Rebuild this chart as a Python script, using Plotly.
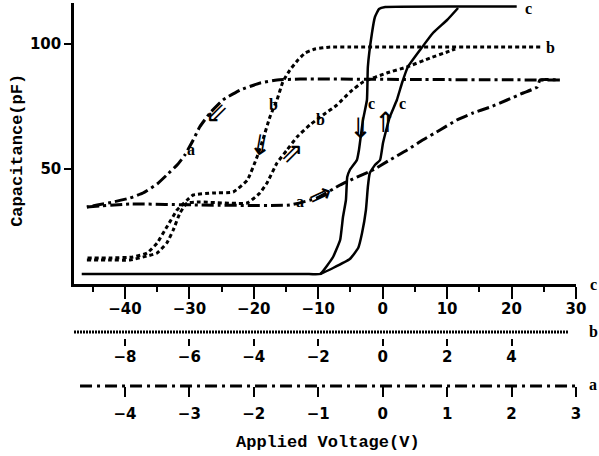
import plotly.graph_objects as go

# ---- data (voltage in each curve's own scale, capacitance in pF) ----
c_down_v = [20.8, 11.7, 0.4, -0.57, -1.2, -1.66, -2.3, -2.44, -3.06, -3.68, -4.0, -5.1, -5.5, -5.7, -6.16, -6.6, -7.7, -9.7, -12.0, -46.7]
c_down_c = [115, 115, 114.8, 114, 110.8, 104.4, 90.8, 77.6, 69.6, 57.6, 53.6, 49.6, 46.8, 37.6, 30.8, 21.6, 14.8, 8, 8, 8]
c_up_v = [-9.7, -7.7, -5.1, -3.8, -3.2, -2.6, -2.3, -2.0, -1.2, -0.4, 0.05, 0.67, 1.1, 2.2, 3.0, 3.9, 5.8, 7.8, 10.0, 11.7]
c_up_c = [8, 10.4, 14, 18.4, 24.4, 33.6, 42.8, 48.4, 51.6, 53.6, 60.4, 66.8, 70.8, 77.6, 84.4, 90.8, 97.6, 104.4, 109.6, 114.4]

b_down_v = [4.89, -1.0, -1.63, -2.1, -2.41, -2.63, -2.88, -3.1, -3.28, -3.5, -3.72, -3.9, -4.2, -4.64, -5.26, -5.88, -6.07, -6.38, -6.7, -7.0, -7.31, -7.75, -8.46, -9.18]
b_down_c = [98.8, 98.8, 98.8, 98, 96.4, 93.6, 89.6, 84.8, 77.6, 70.8, 61.6, 54.8, 45.6, 40.8, 40.4, 39.6, 37.6, 33.6, 26.8, 20.4, 16.4, 14.8, 14.4, 14.4]
b_up_v = [-9.18, -8.5, -7.84, -7.31, -7.0, -6.7, -6.5, -6.29, -6.07, -5.67, -4.21, -3.81, -3.59, -3.28, -2.97, -2.66, -2.26, -1.85, -1.42, -1.01, -0.61, 0.13, 0.75, 1.47, 2.0, 2.25]
b_up_c = [13.6, 13.6, 13.6, 15.2, 16.4, 20.4, 25.6, 32.4, 36.4, 36.8, 36.4, 40.4, 44.4, 52.4, 57.6, 62.8, 67.6, 71.6, 75.6, 80.8, 84.8, 88.4, 90.8, 94.4, 96.8, 98.0]

a_down_v = [2.75, 0.5, -1.28, -1.64, -1.9, -2.21, -2.48, -2.68, -2.84, -2.94, -3.07, -3.19, -3.35, -3.5, -3.72, -3.92, -4.18, -4.43, -4.59]
a_down_c = [85.6, 85.8, 86, 85.6, 84.4, 81.6, 77.6, 72.4, 66.8, 61.6, 55.6, 51.6, 47.6, 44, 40.4, 38.4, 36.8, 35.6, 34.8]
a_up_v = [-4.59, -3.92, -2.83, -1.44, -1.02, -0.66, -0.40, -0.15, 0.11, 0.38, 0.62, 0.89, 1.15, 1.40, 1.67, 1.93, 2.18, 2.40, 2.44, 2.75]
a_up_c = [34.8, 36, 35.6, 35.6, 38.4, 43.6, 46.8, 49.6, 53.6, 57.6, 61.6, 65.6, 69.6, 72.4, 74.8, 77.6, 80.4, 82.8, 85.6, 85.6]

c_ticks = [-40, -30, -20, -10, 0, 10, 20, 30]
b_ticks = [-8, -6, -4, -2, 0, 2, 4]
a_ticks = [-4, -3, -2, -1, 0, 1, 2, 3]
y_ticks = [50, 100]

# label positions (c-scale volts, pF)
curve_labels = [("c", 22.6, 114.4), ("b", 26.0, 98.8), ("a", 30.6, 83.6),
                ("a", -29.7, 58), ("b", -16.9, 76), ("b", -9.6, 70),
                ("c", -1.8, 76.4), ("c", 3.0, 76.4), ("a", -12.8, 37.2)]
arrow_marks = [("⇙", -25.8, 72.8, 0), ("⇓", -18.9, 59.6, 10), ("⇗", -14.1, 56.8, 0),
               ("⇗", -9.7, 40, 20), ("⇓", -3.5, 66.4, 0), ("⇑", 0.5, 68.8, 0)]

fig = go.Figure()
c_line = dict(color="black", width=2.5)
b_line = dict(color="black", width=3, dash="4px,3px")
a_line = dict(color="black", width=3, dash="12px,4px,3px,4px")
for xs, ys in [(c_down_v, c_down_c), (c_up_v, c_up_c)]:
    fig.add_trace(go.Scatter(x=xs, y=ys, mode="lines", line=dict(shape="spline", smoothing=0.35, **c_line),
                             xaxis="x", yaxis="y", showlegend=False, hoverinfo="skip"))
for xs, ys in [(b_down_v, b_down_c), (b_up_v, b_up_c)]:
    fig.add_trace(go.Scatter(x=xs, y=ys, mode="lines", line=dict(shape="spline", smoothing=0.4, **b_line),
                             xaxis="x2", yaxis="y", showlegend=False, hoverinfo="skip"))
for xs, ys in [(a_down_v, a_down_c), (a_up_v, a_up_c)]:
    fig.add_trace(go.Scatter(x=xs, y=ys, mode="lines", line=dict(shape="spline", smoothing=0.4, **a_line),
                             xaxis="x3", yaxis="y", showlegend=False, hoverinfo="skip"))

tickfont = dict(family="DejaVu Sans", size=15, color="black", weight="bold")
c_rng = [-47.9, 30.0]
y_bottom = 0.2922
b_pos = 0.156
a_pos = 0.0353

fig.update_layout(
    width=599, height=456,
    margin=dict(l=74, r=23, t=3, b=56),
    paper_bgcolor="white", plot_bgcolor="white",
    xaxis=dict(range=c_rng, domain=[0, 1], tickvals=c_ticks, ticks="outside", ticklen=12, tickwidth=2,
               tickcolor="black", showline=True, linewidth=3, linecolor="black", showgrid=False,
               zeroline=False, tickfont=tickfont, anchor="y", ticklabelstandoff=-3,
               minor=dict(dtick=5, tick0=0, ticks="outside", ticklen=5, tickwidth=1.5, tickcolor="black")),
    xaxis2=dict(range=[c_rng[0] / 5, c_rng[1] / 5], overlaying="x", anchor="free", position=b_pos,
                side="bottom", tickvals=b_ticks, ticks="outside", ticklen=7, tickwidth=1.5, tickcolor="black",
                showline=False, showgrid=False, zeroline=False, tickfont=tickfont, ticklabelstandoff=-2),
    xaxis3=dict(range=[c_rng[0] / 10, c_rng[1] / 10], overlaying="x", anchor="free", position=a_pos,
                side="bottom", tickvals=a_ticks, ticks="outside", ticklen=10, tickwidth=2, tickcolor="black",
                showline=False, showgrid=False, zeroline=False, tickfont=tickfont, ticklabelstandoff=4),
    yaxis=dict(range=[4, 116.4], domain=[y_bottom, 1], tickvals=y_ticks, ticks="outside", ticklen=7,
               tickwidth=2, tickcolor="black", showline=True, linewidth=2.5, linecolor="black",
               showgrid=False, zeroline=False, tickfont=tickfont),
)

# dotted b axis line and dash-dot a axis line
fig.add_shape(type="line", xref="paper", yref="paper", x0=0, x1=0.984, y0=0.1713, y1=0.1713,
              line=dict(color="black", width=3, dash="2px,1px"))
fig.add_shape(type="line", xref="paper", yref="paper", x0=0.012, x1=1.0, y0=a_pos, y1=a_pos,
              line=dict(color="black", width=3, dash="12px,5px,3px,5px"))

lab_font = dict(family="Liberation Serif", size=16, color="black", weight="bold")
for t, x, y in curve_labels:
    fig.add_annotation(x=x, y=y, xref="x", yref="y", text=t, showarrow=False, font=lab_font,
                       xanchor="center", yanchor="middle")
for t, x, y, ang in arrow_marks:
    fig.add_annotation(x=x, y=y, xref="x", yref="y", text=t, showarrow=False, textangle=ang,
                       xanchor="center", yanchor="middle",
                       font=dict(family="DejaVu Sans", size=28, color="black"))

# axis letters at right ends
for t, y in [("c", 0.2897), ("b", 0.1713), ("a", 0.038)]:
    fig.add_annotation(x=1.034, y=y, xref="paper", yref="paper", text=t, showarrow=False, font=lab_font,
                       xanchor="center", yanchor="middle")

title_font = dict(family="Liberation Mono", size=17, color="black", weight="bold")
fig.add_annotation(x=0.506, y=-0.106, xref="paper", yref="paper", text="Applied Voltage(V)",
                   showarrow=False, font=title_font, xanchor="center", yanchor="middle")
fig.add_annotation(x=-0.1116, y=0.63, xref="paper", yref="paper", text="Capacitance(pF)",
                   showarrow=False, textangle=-90, font=title_font, xanchor="center", yanchor="middle")

fig.write_html("out.html")
